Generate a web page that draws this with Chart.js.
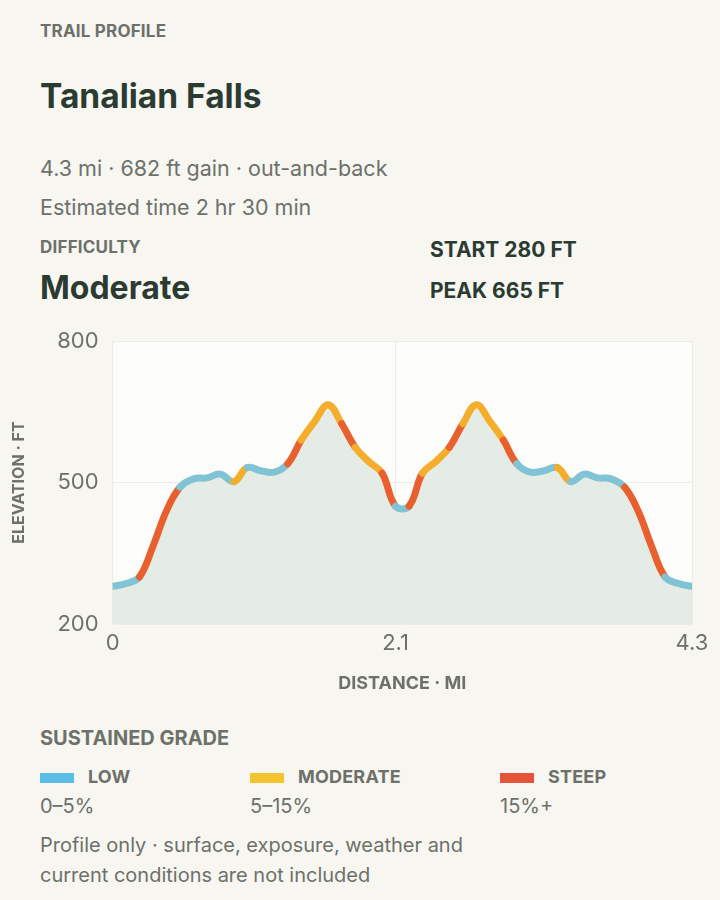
<!DOCTYPE html>
<html>
<head>
<meta charset="utf-8">
<script src="https://cdn.jsdelivr.net/npm/chart.js@4"></script>
<style>
body{margin:0;background:#f7f6f1;font-family:Inter,"Noto Sans",sans-serif;width:720px;height:900px;overflow:hidden;position:relative;color:#2b3b32}
.a{position:absolute;white-space:nowrap}
.k{font-size:17px;font-weight:700;color:#6d716a;letter-spacing:0.2px}
.g{font-size:21.5px;color:#6d716a}
#wrap{position:absolute;left:0;top:314px;width:720px;height:384px}
.sw{display:inline-block;width:34px;height:10px;vertical-align:middle;margin-right:14px}
</style>
</head>
<body>
<div class="a k" style="left:40px;top:21px">TRAIL PROFILE</div>
<div class="a" style="left:40px;top:76px;font-size:33.5px;font-weight:700">Tanalian Falls</div>
<div class="a g" style="left:40px;top:155px">4.3 mi · 682 ft gain · out-and-back</div>
<div class="a g" style="left:40px;top:194px">Estimated time 2 hr 30 min</div>
<div class="a k" style="left:40px;top:237px">DIFFICULTY</div>
<div class="a" style="left:40px;top:268px;font-size:32px;font-weight:700">Moderate</div>
<div class="a" style="left:430px;top:237px;font-size:21px;font-weight:700">START 280 FT</div>
<div class="a" style="left:430px;top:278px;font-size:21px;font-weight:700">PEAK 665 FT</div>
<div id="wrap"><canvas id="c"></canvas></div>
<div class="a" style="left:40px;top:726px;font-size:20px;font-weight:700;color:#6d716a">SUSTAINED GRADE</div>
<div class="a k" style="left:40px;top:766px;font-size:18px"><span class="sw" style="background:#5cbde6"></span>LOW</div>
<div class="a k" style="left:250px;top:766px;font-size:18px"><span class="sw" style="background:#f4c430"></span>MODERATE</div>
<div class="a k" style="left:500px;top:766px;font-size:18px"><span class="sw" style="background:#e5533a"></span>STEEP</div>
<div class="a g" style="left:40px;top:794px;font-size:20px">0–5%</div>
<div class="a g" style="left:250px;top:794px;font-size:20px">5–15%</div>
<div class="a g" style="left:500px;top:794px;font-size:20px">15%+</div>
<div class="a g" style="left:40px;top:830px;font-size:20px;line-height:30px;white-space:normal;width:460px">Profile only · surface, exposure, weather and current conditions are not included</div>
<script>
var distanceMi = [0,0.1,0.2,0.3,0.4,0.5,0.6,0.7,0.8,0.9,1.0,1.1,1.2,1.3,1.4,1.5,1.6,1.7,1.8,1.9,2.0,2.1,
  2.2,2.3,2.4,2.5,2.6,2.7,2.8,2.9,3.0,3.1,3.2,3.3,3.4,3.5,3.6,3.7,3.8,3.9,4.0,4.1,4.2,4.3];
var elevationFt = [280,286,300,365,440,490,508,510,518,502,532,525,522,540,590,630,665,625,575,545,520,450,
  450,520,545,575,625,665,630,590,540,522,525,532,502,518,510,508,490,440,365,300,286,280];
var xTicks = [0, 2.1, 4.3];
var yTicks = [200, 500, 800];

var LOW = '#7fc3d4', MOD = '#f4ae2c', STEEP = '#e9602f';
function gradeColor(ctx) {
  var a = ctx.p0.parsed, b = ctx.p1.parsed;
  var g = Math.abs(b.y - a.y) / ((b.x - a.x) * 5280) * 100;
  return g < 4 ? LOW : (g < 9 ? MOD : STEEP);
}

var pts = distanceMi.map(function(d, i){ return {x: d, y: elevationFt[i]}; });

var areaBg = {
  id: 'areaBg',
  beforeDraw: function(chart) {
    var c = chart.ctx, a = chart.chartArea;
    c.save();
    c.fillStyle = '#fcfcfa';
    c.fillRect(a.left, a.top, a.right - a.left, a.bottom - a.top);
    c.restore();
  }
};

new Chart(document.getElementById('c'), {
  type: 'line',
  data: { datasets: [{
    data: pts,
    borderWidth: 7,
    borderCapStyle: 'round',
    borderJoinStyle: 'round',
    tension: 0.4,
    pointRadius: 0,
    fill: false,
    segment: { borderColor: gradeColor }
  }, {
    data: pts,
    borderWidth: 0,
    tension: 0.4,
    pointRadius: 0,
    fill: 'start',
    backgroundColor: '#e5ece5'
  }]},
  options: {
    responsive: true, maintainAspectRatio: false, animation: false,
    layout: { padding: { left: 6, right: 28, top: 0, bottom: 0 } },
    plugins: { legend: { display: false }, tooltip: { enabled: false } },
    scales: {
      x: {
        type: 'linear', min: 0, max: 4.3,
        afterBuildTicks: function(s){ s.ticks = xTicks.map(function(v){ return {value: v}; }); },
        grid: { color: '#ebebe7', drawTicks: false },
        border: { display: false },
        ticks: { color: '#6d716a', font: { size: 22, family: 'Inter' }, padding: 6, maxRotation: 0,
          callback: function(v){ return String(v); } },
        title: { display: true, text: 'DISTANCE · MI', color: '#6d716a', font: { size: 18, weight: 'bold', family: 'Inter' }, padding: { top: 10 } }
      },
      y: {
        min: 200, max: 800,
        afterBuildTicks: function(s){ s.ticks = yTicks.map(function(v){ return {value: v}; }); },
        grid: { color: '#ebebe7', drawTicks: false },
        border: { display: false },
        ticks: { color: '#6d716a', font: { size: 22, family: 'Inter' }, padding: 14 },
        title: { display: true, text: 'ELEVATION · FT', color: '#6d716a', font: { size: 16, weight: 'bold', family: 'Inter' }, padding: { bottom: 14 } }
      }
    }
  },
  plugins: [areaBg]
});
</script>
</body>
</html>
